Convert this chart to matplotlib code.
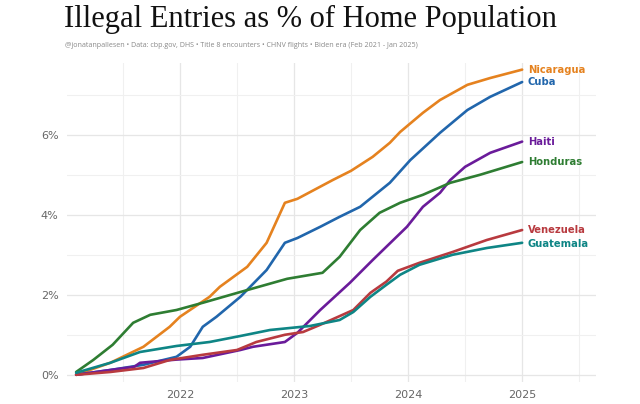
import matplotlib.pyplot as plt
from matplotlib.ticker import MultipleLocator, FuncFormatter

# values, time in fractional years, share in %
nic_t = [2021.09, 2021.39, 2021.68, 2021.91, 2022.0, 2022.26, 2022.35, 2022.59, 2022.76, 2022.92,
         2023.03, 2023.34, 2023.5, 2023.69, 2023.84, 2023.93, 2024.13, 2024.28, 2024.52, 2024.72, 2025.0]
nic_v = [0.0, 0.3, 0.7, 1.2, 1.45, 1.95, 2.2, 2.7, 3.3, 4.3,
         4.4, 4.87, 5.1, 5.45, 5.8, 6.07, 6.55, 6.87, 7.25, 7.42, 7.63]

cub_t = [2021.09, 2021.39, 2021.68, 2021.97, 2022.09, 2022.2, 2022.32, 2022.53, 2022.76, 2022.92,
         2023.03, 2023.23, 2023.4, 2023.58, 2023.84, 2024.02, 2024.28, 2024.52, 2024.72, 2025.0]
cub_v = [0.0, 0.12, 0.25, 0.45, 0.7, 1.2, 1.45, 1.95, 2.62, 3.3,
         3.42, 3.7, 3.95, 4.2, 4.8, 5.37, 6.05, 6.62, 6.95, 7.32]

hai_t = [2021.09, 2021.39, 2021.6, 2021.65, 2021.97, 2022.2, 2022.53, 2022.64, 2022.92,
         2023.03, 2023.23, 2023.49, 2023.69, 2023.99, 2024.13, 2024.28, 2024.37, 2024.5, 2024.72, 2025.0]
hai_v = [0.0, 0.12, 0.2, 0.3, 0.38, 0.42, 0.62, 0.7, 0.82,
         1.05, 1.62, 2.3, 2.87, 3.7, 4.2, 4.55, 4.87, 5.2, 5.55, 5.83]

hon_t = [2021.09, 2021.24, 2021.41, 2021.59, 2021.74, 2021.97, 2022.2, 2022.53, 2022.94,
         2023.25, 2023.4, 2023.58, 2023.75, 2023.93, 2024.13, 2024.37, 2024.63, 2025.0]
hon_v = [0.07, 0.37, 0.75, 1.3, 1.5, 1.62, 1.8, 2.07, 2.4,
         2.55, 2.95, 3.62, 4.05, 4.3, 4.5, 4.8, 5.0, 5.32]

ven_t = [2021.09, 2021.39, 2021.68, 2021.91, 2022.2, 2022.5, 2022.67, 2022.92, 2023.08,
         2023.23, 2023.52, 2023.67, 2023.81, 2023.91, 2024.1, 2024.39, 2024.69, 2025.0]
ven_v = [0.0, 0.07, 0.17, 0.37, 0.5, 0.62, 0.82, 1.0, 1.07,
         1.25, 1.62, 2.05, 2.33, 2.6, 2.8, 3.07, 3.37, 3.62]

gua_t = [2021.09, 2021.39, 2021.65, 2021.97, 2022.26, 2022.53, 2022.79, 2023.14, 2023.4,
         2023.52, 2023.67, 2023.81, 2023.93, 2024.1, 2024.39, 2024.69, 2025.0]
gua_v = [0.05, 0.3, 0.57, 0.72, 0.82, 0.97, 1.12, 1.22, 1.37,
         1.57, 1.95, 2.25, 2.5, 2.75, 3.0, 3.17, 3.3]

paises = ["Nicaragua", "Cuba", "Haiti", "Honduras", "Venezuela", "Guatemala"]
cores = ["#E5821F", "#2166AC", "#6A1B9A", "#2E7D32", "#B83A3F", "#0E8585"]
series = [(nic_t, nic_v), (cub_t, cub_v), (hai_t, hai_v),
          (hon_t, hon_v), (ven_t, ven_v), (gua_t, gua_v)]
# small vertical nudges so labels don't overlap
ajuste = [0.0, 0.0, 0.0, 0.0, 0.0, -0.02]

fig = plt.figure(figsize=(6.4, 4.04), dpi=100)
ax = fig.add_axes([0.1047, 0.0545, 0.827, 0.790])

for (t, v), nome, cor, dy in zip(series, paises, cores, ajuste):
    ax.plot(t, v, color=cor, lw=1.9, solid_capstyle="round", solid_joinstyle="round", zorder=3)
    ax.text(t[-1] + 0.05, v[-1] + dy, nome, color=cor, fontsize=7.2, fontweight="bold",
            family="DejaVu Sans", va="center", ha="left", zorder=4)

ax.set_xlim(2021.01, 2025.65)
ax.set_ylim(-0.18, 7.8)
ax.xaxis.set_major_locator(MultipleLocator(1))
ax.xaxis.set_minor_locator(MultipleLocator(0.5))
ax.yaxis.set_major_locator(MultipleLocator(2))
ax.yaxis.set_minor_locator(MultipleLocator(1))
ax.xaxis.set_major_formatter(FuncFormatter(lambda x, p: "%d" % x if 2022 <= x <= 2025 else ""))
ax.yaxis.set_major_formatter(FuncFormatter(lambda y, p: "%d%%" % y if y <= 6 else ""))
ax.grid(which="major", color="#E6E6E6", lw=0.9)
ax.grid(which="minor", color="#F0F0F0", lw=0.8)
ax.tick_params(which="both", length=0, labelsize=8, labelcolor="#666666", pad=6)
for s in ax.spines.values():
    s.set_visible(False)

fig.text(0.1, 0.933, "Illegal Entries as % of Home Population", fontsize=22,
         family="Liberation Serif", color="#111111", ha="left", va="baseline")
fig.text(0.102, 0.884, "@jonatanpallesen \u2022 Data: cbp.gov, DHS \u2022 Title 8 encounters \u2022 CHNV flights \u2022 Biden era (Feb 2021 - Jan 2025)",
         fontsize=5.1, family="Open Sans", color="#888888", ha="left", va="baseline")

plt.savefig("out.png", dpi=100)
